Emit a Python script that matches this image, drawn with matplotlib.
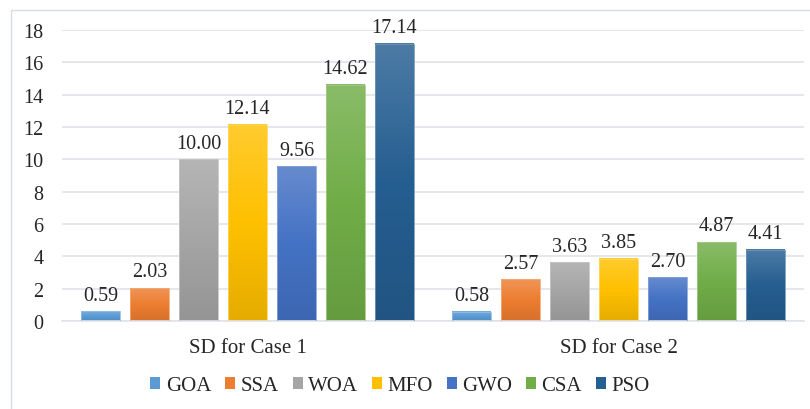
import matplotlib.pyplot as plt
import matplotlib.colors as mcolors
from matplotlib.patches import Rectangle, Patch
import numpy as np

plt.rcParams['font.family'] = 'serif'
plt.rcParams['font.serif'] = ['Liberation Serif', 'Times New Roman', 'DejaVu Serif']

cases = ["SD for Case 1", "SD for Case 2"]
algorithms = ["GOA", "SSA", "WOA", "MFO", "GWO", "CSA", "PSO"]
case1_sd = [0.59, 2.03, 10.00, 12.14, 9.56, 14.62, 17.14]
case2_sd = [0.58, 2.57, 3.63, 3.85, 2.70, 4.87, 4.41]
colors = ["#5B9BD5", "#ED7D31", "#A5A5A5", "#FFC000", "#4472C4", "#70AD47", "#255E91"]

text_color = "#262626"
grid_color = "#E1E3EA"

fig = plt.figure(figsize=(8.1, 4.1), dpi=100)
ax = fig.add_axes([62 / 810, 1 - 322 / 410, 742 / 810, 291 / 410])

# outer chart frame
fig.patches.append(Rectangle((10.5 / 810, -0.05), 1.0, (399.5 / 410) + 0.05,
                             transform=fig.transFigure, fill=False,
                             edgecolor="#DADCE3", linewidth=1.0))


def shade(c, amount):
    # amount > 0 -> towards white, amount < 0 -> towards black
    rgb = np.array(mcolors.to_rgb(c))
    if amount > 0:
        return rgb + (1 - rgb) * amount
    return rgb * (1 + amount)


def gradient_bar(ax, x, width, height, color):
    top = shade(color, 0.18)
    mid = np.array(mcolors.to_rgb(color))
    bot = shade(color, -0.10)
    t = np.linspace(0, 1, 64)[:, None]
    upper = top + (mid - top) * np.clip(t * 2, 0, 1)
    lower = mid + (bot - mid) * np.clip(t * 2 - 1, 0, 1)
    grad = np.where(t < 0.5, upper, lower)[:, None, :]
    ax.imshow(grad, extent=[x - width / 2, x + width / 2, 0, height],
              aspect="auto", interpolation="bilinear", zorder=2)
    ax.add_patch(Rectangle((x - width / 2, 0), width, height, fill=False,
                           edgecolor=shade(color, 0.35), linewidth=0.6, zorder=3))


step = 49 / 371
width = 39 / 371
values = [case1_sd, case2_sd]
for ci, vals in enumerate(values):
    for i, v in enumerate(vals):
        x = ci + (i - 3) * step
        gradient_bar(ax, x, width, v, colors[i])
        ax.annotate(f"{v:.2f}", (x, v), xytext=(0, 8.5), textcoords="offset points",
                    ha="center", va="baseline", fontsize=14.5, color=text_color)

ax.set_xlim(-0.5, 1.5)
ax.set_ylim(0, 18)
ax.set_yticks(range(0, 19, 2))
ax.set_xticks([0, 1])
ax.set_xticklabels(cases)
ax.tick_params(axis="y", length=0, pad=13.5, labelsize=14.5, labelcolor=text_color)
ax.tick_params(axis="x", length=0, pad=12, labelsize=15, labelcolor=text_color)
ax.grid(axis="y", color=grid_color, linewidth=1.2, zorder=0)
ax.set_axisbelow(True)
for s in ["top", "right", "left"]:
    ax.spines[s].set_visible(False)
ax.spines["bottom"].set_color(grid_color)
ax.spines["bottom"].set_linewidth(1.2)

handles = [Patch(facecolor=c, edgecolor="none") for c in colors]
fig.legend(handles, algorithms, loc="center", bbox_to_anchor=(400 / 810, 1 - 387 / 410),
           ncol=7, frameon=False, fontsize=15, handlelength=0.48, handleheight=0.45,
           handletextpad=0.25, columnspacing=0.68, labelcolor=text_color)

fig.savefig("out.png", dpi=100)
